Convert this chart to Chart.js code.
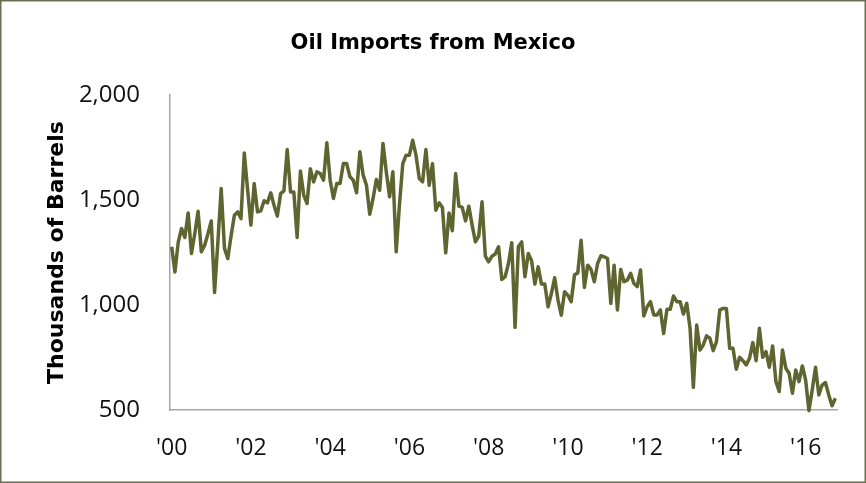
<!DOCTYPE html>
<html lang="en">
<head>
<meta charset="UTF-8">
<title>Oil Imports from Mexico</title>
<script src="https://cdn.jsdelivr.net/npm/chart.js"></script>
<style>
  body { margin: 0; background: #fff; }
  .caixa { width: 866px; height: 483px; position: relative; }
</style>
</head>
<body>
<div class="caixa"><canvas id="grafico"></canvas></div>
<script>
// monthly values, Jan 2000 .. Oct 2016 (one row per year)
const imports = [
  1278, 1158, 1300, 1365, 1322, 1439, 1246, 1340, 1447, 1254, 1285, 1340,
  1401, 1060, 1300, 1555, 1270, 1222, 1330, 1428, 1444, 1412, 1725, 1550,
  1381, 1579, 1444, 1449, 1497, 1487, 1535, 1476, 1424, 1531, 1544, 1741,
  1539, 1539, 1322, 1639, 1524, 1484, 1650, 1587, 1635, 1627, 1595, 1773,
  1595, 1508, 1579, 1579, 1674, 1674, 1611, 1595, 1535, 1730, 1619, 1571,
  1433, 1508, 1598, 1547, 1770, 1635, 1516, 1635, 1254, 1480, 1674, 1714,
  1714, 1785, 1714, 1603, 1587, 1741, 1571, 1674, 1452, 1487, 1465, 1249,
  1439, 1354, 1627, 1471, 1465, 1401, 1471, 1381, 1301, 1328, 1492, 1233,
  1206, 1233, 1243, 1278, 1122, 1135, 1198, 1297, 894, 1278, 1301, 1135,
  1246, 1211, 1100, 1182, 1100, 1100, 992, 1055, 1130, 1024, 952, 1063,
  1047, 1016, 1143, 1154, 1309, 1084, 1190, 1170, 1111, 1198, 1235, 1230,
  1222, 1008, 1190, 977, 1170, 1111, 1119, 1151, 1103, 1088, 1167, 948,
  992, 1016, 953, 953, 977, 865, 980, 980, 1043, 1016, 1016, 957,
  1008, 889, 608, 905, 786, 810, 853, 842, 783, 826, 977, 984,
  984, 794, 794, 694, 751, 735, 715, 746, 821, 735, 889, 751,
  778, 704, 805, 635, 588, 786, 699, 675, 580, 691, 635, 710,
  643, 497, 596, 704, 572, 619, 631, 572, 520, 556
];
const monthNames = ['Jan', 'Feb', 'Mar', 'Apr', 'May', 'Jun', 'Jul', 'Aug', 'Sep', 'Oct', 'Nov', 'Dec'];
const firstYear = 2000;
const yTicks = [500, 1000, 1500, 2000];

// category labels like "Jan 2000"
const labels = imports.map((v, i) => monthNames[i % 12] + ' ' + (firstYear + Math.floor(i / 12)));

const fonte = "'Open Sans', 'DejaVu Sans', sans-serif";
const fonteBold = "'DejaVu Sans', 'Open Sans', sans-serif";
const verde = '#5e6530';

const moldura = {
  id: 'moldura',
  afterDraw(chart) {
    const ctx = chart.ctx;
    ctx.save();
    ctx.strokeStyle = '#6b7150';
    ctx.lineWidth = 1.5;
    ctx.strokeRect(0.75, 0.75, chart.width - 1.5, chart.height - 1.5);
    ctx.restore();
  }
};

new Chart(document.getElementById('grafico'), {
  type: 'line',
  data: {
    labels: labels,
    datasets: [{
      label: 'Oil Imports from Mexico',
      data: imports,
      borderColor: verde,
      borderWidth: 3.5,
      pointRadius: 0,
      tension: 0,
      borderJoinStyle: 'round',
      clip: 6
    }]
  },
  options: {
    responsive: true,
    maintainAspectRatio: false,
    animation: false,
    // symmetric side padding keeps the title centred on the page
    layout: { padding: { top: 0, right: 29, bottom: 0, left: 29 } },
    plugins: {
      legend: { display: false },
      tooltip: { enabled: false },
      title: {
        display: true,
        text: 'Oil Imports from Mexico',
        color: '#000',
        font: { family: fonteBold, size: 21, weight: 'bold' },
        padding: { top: 31, bottom: 39 }
      }
    },
    scales: {
      x: {
        type: 'category',
        offset: true,
        grid: { display: false, drawTicks: false },
        border: { color: '#a6a6a6', width: 1.5 },
        ticks: {
          autoSkip: false,
          maxRotation: 0,
          padding: 25,
          color: '#111',
          font: { family: fonte, size: 23 },
          callback: (v, i) => i % 24 === 0 ? "'" + String(firstYear + i / 12).slice(2) : ''
        },
        afterFit: s => { s.height = 73; }
      },
      y: {
        min: yTicks[0],
        max: yTicks[yTicks.length - 1],
        grid: { display: false, drawTicks: false },
        border: { color: '#a6a6a6', width: 1.5 },
        ticks: {
          stepSize: 500,
          padding: 30,
          color: '#111',
          font: { family: fonte, size: 24 }
        },
        title: {
          display: true,
          text: 'Thousands of Barrels',
          color: '#000',
          font: { family: fonteBold, size: 22, weight: 'bold' },
          padding: { top: 15, bottom: 0 }
        },
        afterFit: s => { s.width = 141; }
      }
    }
  },
  plugins: [moldura]
});
</script>
</body>
</html>
